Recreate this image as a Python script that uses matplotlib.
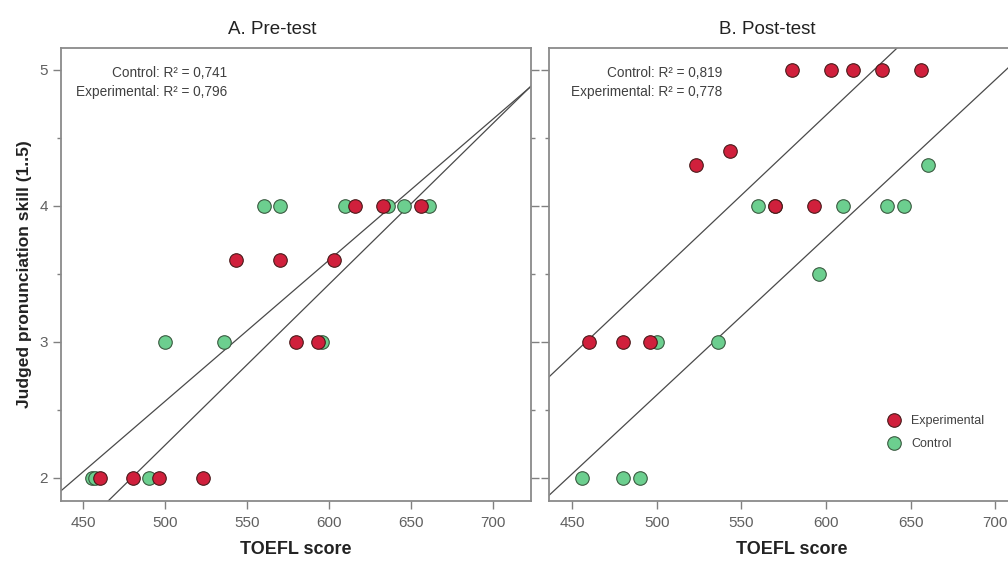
import numpy as np
import matplotlib.pyplot as plt
from matplotlib.ticker import MultipleLocator

plt.rcParams['font.family'] = ['Liberation Sans', 'DejaVu Sans']

# Pre-test data (TOEFL score, judged skill)
pre_ctrl_x = [455, 457, 490, 500, 536, 560, 570, 596, 610, 636, 646, 661]
pre_ctrl_y = [2, 2, 2, 3, 3, 4, 4, 3, 4, 4, 4, 4]
pre_exp_x = [460, 480, 496, 523, 543, 570, 580, 593, 603, 616, 633, 656]
pre_exp_y = [2, 2, 2, 2, 3.6, 3.6, 3, 3, 3.6, 4, 4, 4]

# Post-test data
post_ctrl_x = [456, 480, 490, 500, 536, 560, 570, 596, 610, 636, 646, 660]
post_ctrl_y = [2, 2, 2, 3, 3, 4, 4, 3.5, 4, 4, 4, 4.3]
post_exp_x = [460, 480, 496, 523, 543, 570, 580, 593, 603, 616, 633, 656]
post_exp_y = [3, 3, 3, 4.3, 4.4, 4, 5, 4, 5, 5, 5, 5]

# fit lines: (slope, intercept), order = control, experimental
pre_fit = [(0.01035, -2.611), (0.0118, -3.658)]
post_fit = [(0.01158, -3.181), (0.01175, -2.385)]
pre_r2 = ['0,741', '0,796']
post_r2 = ['0,819', '0,778']

red = '#d0203c'
green = '#6ccf8f'
W, H = 1008, 563

fig = plt.figure(figsize=(W / 100, H / 100), dpi=100)
ax1 = fig.add_axes([61 / W, 1 - 501 / H, 470 / W, 453 / H])
ax2 = fig.add_axes([549 / W, 1 - 501 / H, 486 / W, 453 / H])

panels = [
    (ax1, 'A. Pre-test', pre_ctrl_x, pre_ctrl_y, pre_exp_x, pre_exp_y, pre_fit, pre_r2, 0.353),
    (ax2, 'B. Post-test', post_ctrl_x, post_ctrl_y, post_exp_x, post_exp_y, post_fit, post_r2, 0.356),
]

for ax, title, cx, cy, ex, ey, fit, r2, tx in panels:
    for slope, icpt in fit:
        ax.axline((0, icpt), slope=slope, color='#4a4a4a', lw=0.9, zorder=2)
    ax.scatter(cx, cy, s=95, c=green, edgecolors='#3a5a40', linewidths=0.8,
               zorder=3, label='Control')
    ax.scatter(ex, ey, s=95, c=red, edgecolors='#4a1a1a', linewidths=0.8,
               zorder=4, label='Experimental')

    ax.set_xlim(436.3, 723.4)
    ax.set_ylim(1.83, 5.158)
    ax.xaxis.set_major_locator(MultipleLocator(50))
    ax.yaxis.set_major_locator(MultipleLocator(1))
    ax.yaxis.set_minor_locator(MultipleLocator(0.5))
    ax.tick_params(axis='both', which='major', direction='out', length=6,
                   width=1, color='#808080', labelcolor='#606060', labelsize=11)
    ax.tick_params(axis='x', which='major', pad=5)
    ax.tick_params(axis='y', which='minor', direction='out', length=3,
                   width=1, color='#808080')
    ax.tick_params(axis='y', which='both', left=True, right=True)
    for sp in ax.spines.values():
        sp.set_color('#8a8a8a')
        sp.set_linewidth(1.3)

    ax.set_title(title, fontsize=13.5, color='#222222', pad=10, x=0.45)
    ax.set_xlabel('TOEFL score', fontsize=13, fontweight='bold',
                  color='#222222', labelpad=8)

    ax.text(tx, 0.945, f'Control: R² = {r2[0]}', transform=ax.transAxes,
            ha='right', va='center', fontsize=9.8, color='#404040')
    ax.text(tx, 0.903, f'Experimental: R² = {r2[1]}', transform=ax.transAxes,
            ha='right', va='center', fontsize=9.8, color='#404040')

ax1.set_ylabel('Judged pronunciation skill (1..5)', fontsize=12.5,
               fontweight='bold', color='#222222', labelpad=5)
ax2.tick_params(axis='y', which='both', labelleft=False)

# legend: experimental first
h, l = ax2.get_legend_handles_labels()
ax2.legend(h[::-1], l[::-1], loc='center left', bbox_to_anchor=(0.66, 0.152),
           frameon=False, fontsize=9, handletextpad=0.4, labelspacing=0.9,
           labelcolor='#404040')

fig.savefig('out.png', dpi=100)
